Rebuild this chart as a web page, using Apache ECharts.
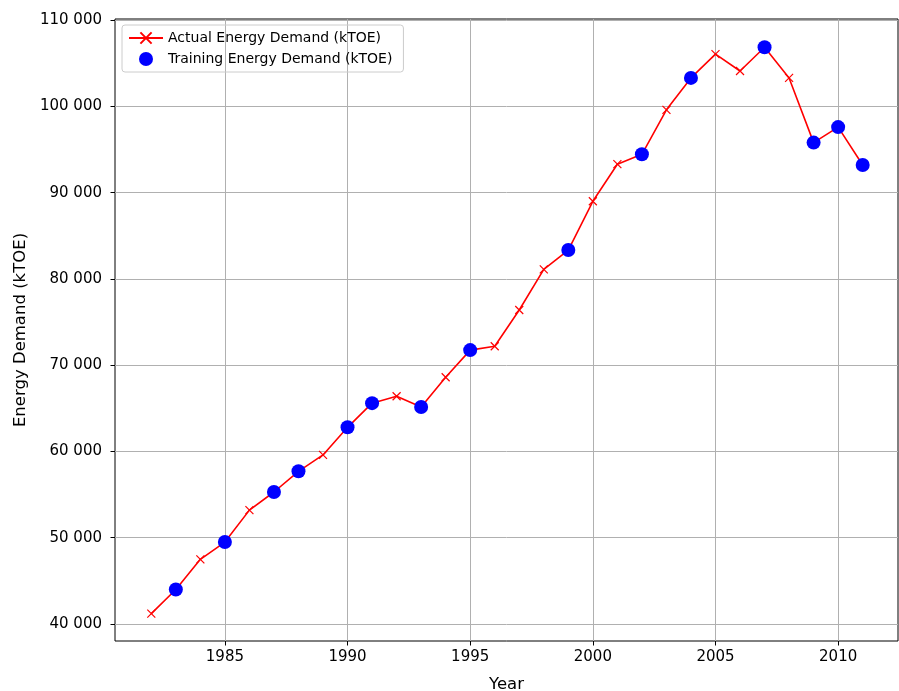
<!DOCTYPE html>
<html>
<head>
<meta charset="utf-8">
<script src="https://cdn.jsdelivr.net/npm/echarts@6/dist/echarts.min.js"></script>
<style>
  html, body { margin: 0; padding: 0; background: #fff; }
  #chart-container { width: 899px; height: 691px; }
</style>
</head>
<body>
<div id="chart-container"></div>
<script>
// Actual demand, one value per year
const years = [1982, 1983, 1984, 1985, 1986, 1987, 1988, 1989, 1990, 1991,
  1992, 1993, 1994, 1995, 1996, 1997, 1998, 1999, 2000, 2001,
  2002, 2003, 2004, 2005, 2006, 2007, 2008, 2009, 2010, 2011];
const actualDemand = [41200, 44000, 47500, 49500, 53200, 55300, 57700, 59600, 62800, 65600,
  66400, 65150, 68600, 71750, 72200, 76400, 81100, 83350, 89000, 93300,
  94450, 99600, 103300, 106050, 104100, 106850, 103300, 95800, 97600, 93200];

// Training points (subset of years)
const trainYears = [1983, 1985, 1987, 1988, 1990, 1991, 1993, 1995, 1999, 2002, 2004, 2007, 2009, 2010, 2011];
const trainDemand = [44000, 49500, 55300, 57700, 62800, 65600, 65150, 71750, 83350, 94450, 103300, 106850, 95800, 97600, 93200];

const xTicks = [1985, 1990, 1995, 2000, 2005, 2010];
const yTicks = [40000, 50000, 60000, 70000, 80000, 90000, 100000, 110000];

const fmtThousands = (v) => {
    const s = String(Math.round(v));
    return s.replace(/\B(?=(\d{3})+(?!\d))/g, ' ');
};

const container = echarts.init(document.getElementById('chart-container'));

const actualData = years.map((y, i) => [y, actualDemand[i]]);
const trainData = trainYears.map((y, i) => [y, trainDemand[i]]);

const cfg = {
    animation: false,
    textStyle: { fontFamily: 'DejaVu Sans', color: '#000' },
    grid: {
        left: 115, right: 1, top: 19, bottom: 50,
        outerBoundsMode: 'none',
        containLabel: false,
        show: true, borderColor: '#000', borderWidth: 1
    },
    legend: {
        orient: 'vertical',
        left: 122, top: 25,
        padding: [6, 11, 6, 6],
        itemGap: 7,
        itemWidth: 34, itemHeight: 14,
        borderColor: '#ccc', borderWidth: 1, borderRadius: 3,
        textStyle: { fontFamily: 'DejaVu Sans', fontSize: 14, color: '#000' },
        data: ['Actual Energy Demand (kTOE)', 'Training Energy Demand (kTOE)']
    },
    xAxis: {
        type: 'value',
        min: 1980.52, max: 2012.44,
        name: 'Year',
        nameLocation: 'middle',
        nameGap: 35,
        nameTextStyle: { fontFamily: 'DejaVu Sans', fontSize: 16.5, color: '#000' },
        axisLine: { show: false },
        axisTick: { show: true, length: 4.5, customValues: xTicks, lineStyle: { color: '#000' } },
        axisLabel: {
            customValues: xTicks, fontFamily: 'DejaVu Sans', fontSize: 15, color: '#000', margin: 9,
            formatter: (v) => String(v)
        },
        splitLine: { show: true, lineStyle: { color: '#b0b0b0', width: 1 } }
    },
    yAxis: {
        type: 'value',
        min: 38030, max: 110130,
        name: 'Energy Demand (kTOE)',
        nameLocation: 'middle',
        nameGap: 85,
        nameTextStyle: { fontFamily: 'DejaVu Sans', fontSize: 16.5, color: '#000' },
        axisLine: { show: false },
        axisTick: { show: true, length: 4.5, customValues: yTicks, lineStyle: { color: '#000' } },
        axisLabel: {
            customValues: yTicks, fontFamily: 'DejaVu Sans', fontSize: 15, color: '#000', margin: 13,
            formatter: fmtThousands
        },
        splitLine: { show: true, lineStyle: { color: '#b0b0b0', width: 1 } }
    },
    series: [{
        name: 'Actual Energy Demand (kTOE)',
        type: 'line',
        data: actualData,
        symbol: 'path://M0,0L10,10M10,0L0,10',
        symbolSize: 8,
        lineStyle: { color: '#ff0000', width: 1.6 },
        itemStyle: { color: '#ff0000', borderColor: '#ff0000', borderWidth: 1.2 },
        z: 2
    }, {
        name: 'Training Energy Demand (kTOE)',
        type: 'scatter',
        data: trainData,
        symbol: 'circle',
        symbolSize: 14,
        itemStyle: { color: '#0000ff', opacity: 1 },
        z: 3
    }]
};

container.setOption(cfg);
</script>
</body>
</html>
